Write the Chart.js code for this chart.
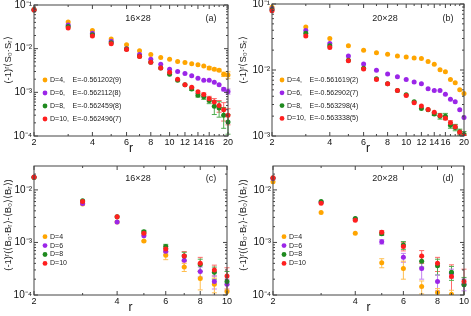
<!DOCTYPE html>
<html>
<head>
<meta charset="utf-8">
<script src="https://cdn.jsdelivr.net/npm/chart.js@4"></script>
<style>
  html, body { margin: 0; padding: 0; background: #fff; }
  #wrap { position: relative; width: 471px; height: 316px; }
  #wrap canvas { position: absolute; left: 0; top: 0; }
</style>
</head>
<body>
<div id="wrap">
  <canvas id="pa" width="471" height="316"></canvas>
  <canvas id="pb" width="471" height="316"></canvas>
  <canvas id="pc" width="471" height="316"></canvas>
  <canvas id="pd" width="471" height="316"></canvas>
</div>
<script>
// distances
const rLong = [2, 3, 4, 5, 6, 7, 8, 9, 10, 11, 12, 13, 14, 15, 16, 17, 18, 19, 20];
const rShort = [2, 3, 4, 5, 6, 7, 8, 9, 10];
const xTicksLong = [2, 4, 6, 8, 10, 12, 14, 16, 20];
const xTicksShort = [2, 4, 6, 8, 10];

const labelsD = ["D=4", "D=6", "D=8", "D=10"];
const energies16 = ["E=-0.561202(9)", "E=-0.562112(8)", "E=-0.562459(8)", "E=-0.562496(7)"];
const energies20 = ["E=-0.561619(2)", "E=-0.562902(7)", "E=-0.563298(4)", "E=-0.563338(5)"];

// (a) spin correlation, 16x28
const aD4 = [0.080, 0.041, 0.026, 0.0166, 0.0123, 0.0090, 0.0074, 0.0063, 0.0057, 0.0051, 0.0048, 0.0045, 0.0043, 0.0040, 0.0036, 0.0034, 0.0032, 0.0026, 0.0025];
const aD6 = [0.078, 0.035, 0.0224, 0.0147, 0.0100, 0.0074, 0.0057, 0.0044, 0.0034, 0.0030, 0.0027, 0.0024, 0.0021, 0.0019, 0.0019, 0.0017, 0.0015, 0.00118, 0.00105];
const aD8 = [0.077, 0.032, 0.0208, 0.0137, 0.0098, 0.0067, 0.0049, 0.0036, 0.0026, 0.0019, 0.0015, 0.00120, 0.00086, 0.00079, 0.00065, 0.00048, 0.00044, 0.00030, 0.00021];
const aD10 = [0.077, 0.0297, 0.0195, 0.0130, 0.0096, 0.0066, 0.0049, 0.0036, 0.0029, 0.0020, 0.0015, 0.0013, 0.00103, 0.00089, 0.00071, 0.00060, 0.00050, 0.00040, 0.00030];
const aD4err = [0, 0, 0, 0, 0, 0, 0, 0, 0, 0, 0, 0, 0, 0, 0.0003, 0.0002, 0.0002, 0.0003, 0.00045];
const aD6err = [0, 0, 0, 0, 0, 0, 0, 0, 0, 0, 0, 0, 0, 0, 0, 0, 0, 0.0001, 0.00014];
const aD8err = [0, 0, 0, 0, 0, 0, 0, 0, 0, 0, 0, 0.0001, 0.00008, 0.0001, 0.0001, 0.00017, 0.00017, 0.00015, 0.0001];
const aD10err = [0, 0, 0, 0, 0, 0, 0, 0, 0, 0, 0, 0, 0, 0.00008, 0.0001, 0.00012, 0.00015, 0.00018, 0.00012];

// (b) spin correlation, 20x28
const bD4 = [0.089, 0.045, 0.030, 0.0234, 0.020, 0.0183, 0.0173, 0.0163, 0.0158, 0.0152, 0.0150, 0.0134, 0.0122, 0.0101, 0.0094, 0.0072, 0.0064, 0.0050, 0.0044];
const bD6 = [0.085, 0.0395, 0.0253, 0.0163, 0.0123, 0.0099, 0.0087, 0.0079, 0.0072, 0.0066, 0.0062, 0.0052, 0.0049, 0.0049, 0.0043, 0.0036, 0.0033, 0.0025, 0.0019];
const bD8 = [0.082, 0.036, 0.0233, 0.0140, 0.0106, 0.0074, 0.0062, 0.0049, 0.0042, 0.0033, 0.0026, 0.0025, 0.00215, 0.0020, 0.0020, 0.00146, 0.00135, 0.00115, 0.00105];
const bD10 = [0.079, 0.0327, 0.022, 0.0138, 0.0104, 0.0072, 0.0062, 0.0049, 0.0041, 0.0032, 0.00285, 0.00253, 0.0023, 0.00204, 0.00186, 0.00159, 0.00138, 0.00114, 0.0010];
const bD4err = [0, 0, 0, 0, 0, 0, 0, 0, 0, 0, 0, 0, 0, 0, 0, 0, 0, 0, 0];
const bD6err = [0, 0, 0, 0, 0, 0, 0, 0, 0, 0, 0, 0, 0, 0, 0, 0, 0, 0, 0];
const bD8err = [0, 0, 0, 0, 0, 0, 0, 0, 0, 0, 0, 0, 0.0001, 0.0002, 0.0002, 0.00015, 0.00015, 0.00012, 0.00012];
const bD10err = [0, 0, 0, 0, 0, 0, 0, 0, 0, 0, 0, 0, 0, 0, 0.0001, 0.00012, 0.0001, 0.0001, 0.0001];

// (c) dimer correlation, 16x28
const cD4 = [0.0172, 0.0054, 0.00245, 0.00106, 0.00057, 0.00034, 0.000205, 0.00016, 0.000116];
const cD6 = [0.0175, 0.0055, 0.00246, 0.00134, 0.00068, 0.00046, 0.00028, 0.00018, 0.00016];
const cD8 = [0.0175, 0.0062, 0.0031, 0.0016, 0.00084, 0.00055, 0.00038, 0.00027, 0.00018];
const cD10 = [0.0176, 0.0060, 0.0031, 0.00149, 0.00075, 0.00055, 0.0004, 0.0003, 0.00023];
const cD4err = [0, 0, 0, 0.00003, 0.0001, 0.00006, 0.00008, 0.00005, 0.00004];
const cD6err = [0, 0, 0, 0, 0.00008, 0.00012, 0.00006, 0.00005, 0.00004];
const cD8err = [0, 0, 0, 0.0001, 0.00008, 0.0001, 0.0001, 0.00007, 0.0001];
const cD10err = [0, 0, 0, 0.0001, 0.0001, 0.00012, 0.00012, 0.00007, 0.0001];

// (d) dimer correlation, 20x28
const dD4 = [0.0143, 0.0037, 0.00149, 0.00041, 0.00032, 0.000145, 0.000112, 0.000103, null];
const dD6 = [0.0165, 0.0058, 0.0028, 0.00103, 0.00052, 0.00032, 0.00018, 0.00026, 0.00016];
const dD8 = [0.0168, 0.0060, 0.00285, 0.00147, 0.00089, 0.00044, 0.00036, 0.00027, 0.000156];
const dD10 = [0.017, 0.0056, 0.00265, 0.00156, 0.00084, 0.00055, 0.0004, 0.000225, 0.00018];
const dD4err = [0, 0, 0, 0.00008, 0.00012, 0.00004, 0.00002, 0.00002, 0];
const dD6err = [0, 0, 0, 0.0001, 0.0001, 0.00012, 0.00006, 0.00005, 0.00004];
const dD8err = [0, 0, 0, 0.0001, 0.00015, 0.0001, 0.00012, 0.00008, 0.00006];
const dD10err = [0, 0, 0, 0.00012, 0.00015, 0.00015, 0.00012, 0.00015, 0.00013];

const colors = ["#ffa500", "#9b26e8", "#1f8a1f", "#ff1f1f"];
const errColors = ["#ffbf50", "#c37ff0", "#4fae4f", "#ff6a6a"];
const FONT = "'Liberation Sans', Arial, sans-serif";

function sup(n) {
  const m = { "-": "\u207B", "0": "\u2070", "1": "\u00B9", "2": "\u00B2", "3": "\u00B3", "4": "\u2074",
    "5": "\u2075", "6": "\u2076", "7": "\u2077", "8": "\u2078", "9": "\u2079" };
  return String(n).split("").map((c) => m[c]).join("");
}

// error bars, drawn under the points
const errorBars = {
  id: "errorBars",
  beforeDatasetsDraw(chart) {
    const ctx = chart.ctx;
    const xs = chart.scales.x, ys = chart.scales.y, a = chart.chartArea;
    ctx.save();
    ctx.beginPath();
    ctx.rect(a.left - 6, a.top, a.right - a.left + 12, a.bottom - a.top);
    ctx.clip();
    ctx.lineWidth = 1;
    chart.data.datasets.slice().reverse().forEach((ds) => {
      ctx.strokeStyle = ds.errColor;
      ds.data.forEach((p, j) => {
        const e = ds.err[j];
        if (p.y == null || !e) return;
        const x = xs.getPixelForValue(p.x);
        const y1 = ys.getPixelForValue(p.y + e);
        const y2 = ys.getPixelForValue(Math.max(p.y - e, 1e-6));
        ctx.beginPath();
        ctx.moveTo(x, y1); ctx.lineTo(x, y2);
        ctx.moveTo(x - 2.5, y1); ctx.lineTo(x + 2.5, y1);
        ctx.moveTo(x - 2.5, y2); ctx.lineTo(x + 2.5, y2);
        ctx.stroke();
      });
    });
    ctx.restore();
  },
};

// box with inward ticks on all sides
const frame = {
  id: "frame",
  afterDraw(chart, args, o) {
    const ctx = chart.ctx;
    const xs = chart.scales.x, ys = chart.scales.y, a = chart.chartArea;
    ctx.save();
    ctx.strokeStyle = "#444";
    ctx.lineWidth = 1;
    ctx.strokeRect(a.left, a.top, a.right - a.left, a.bottom - a.top);
    ctx.beginPath();
    o.xMinor.forEach((v) => {
      const x = xs.getPixelForValue(v);
      const len = o.xMajor.includes(v) ? 4 : 2;
      ctx.moveTo(x, a.bottom); ctx.lineTo(x, a.bottom - len);
      ctx.moveTo(x, a.top); ctx.lineTo(x, a.top + len);
    });
    const lo = Math.floor(Math.log10(ys.min)), hi = Math.ceil(Math.log10(ys.max));
    for (let e = lo; e <= hi; e++) {
      for (let k = 1; k <= 9; k++) {
        const v = k * Math.pow(10, e);
        if (v < ys.min * 0.999 || v > ys.max * 1.001) continue;
        const y = ys.getPixelForValue(v);
        const len = k === 1 ? 4 : 2;
        ctx.moveTo(a.left, y); ctx.lineTo(a.left + len, y);
        ctx.moveTo(a.right, y); ctx.lineTo(a.right - len, y);
      }
    }
    ctx.stroke();
    ctx.restore();
  },
};

// panel label, size, legend and y title
const notes = {
  id: "notes",
  afterDraw(chart, args, o) {
    const ctx = chart.ctx;
    ctx.save();
    ctx.fillStyle = "#222";
    ctx.textBaseline = "middle";
    ctx.textAlign = "center";
    ctx.font = "9px " + FONT;
    ctx.fillText(o.size, o.sizeX, o.headY);
    ctx.fillText(o.letter, o.letterX, o.headY);
    ctx.textAlign = "left";
    ctx.font = "7px " + FONT;
    labelsD.forEach((lab, i) => {
      const y = o.legY + i * o.legStep;
      ctx.fillStyle = colors[i];
      ctx.beginPath();
      ctx.arc(o.legX, y, 2.4, 0, Math.PI * 2);
      ctx.fill();
      ctx.fillStyle = "#222";
      ctx.fillText(o.energies ? lab + "," : lab, o.legX + 5, y);
      if (o.energies) ctx.fillText(o.energies[i], o.legX + 27.5, y);
    });
    ctx.translate(o.titleX, o.titleY);
    ctx.rotate(-Math.PI / 2);
    ctx.textAlign = "center";
    ctx.font = "9.5px " + FONT;
    ctx.fillText(o.yTitle, 0, 0);
    ctx.restore();
  },
};

function makePanel(id, p) {
  const datasets = p.values.map((vals, i) => ({
    label: labelsD[i],
    data: p.r.map((r, j) => ({ x: r, y: vals[j] })),
    err: p.errs[i],
    errColor: errColors[i],
    backgroundColor: colors[i],
    borderWidth: 0,
    pointRadius: 2.5,
    pointHoverRadius: 2.5,
    order: 4 - i,
    clip: { left: 6, right: 6, top: 0, bottom: 0 },
  }));
  const yw = 32;
  new Chart(document.getElementById(id), {
    type: "scatter",
    data: { datasets },
    options: {
      responsive: false,
      animation: false,
      devicePixelRatio: 1,
      layout: {
        padding: { left: p.box[0] - yw, top: p.box[1], right: 471 - p.box[2], bottom: 316 - p.box[3] - p.xh },
      },
      scales: {
        x: {
          type: "logarithmic",
          min: p.r[0],
          max: p.r[p.r.length - 1],
          grid: { display: false, drawTicks: false },
          border: { display: false },
          afterBuildTicks: (s) => { s.ticks = p.xTicks.map((v) => ({ value: v })); },
          afterFit: (s) => { s.height = p.xh; s.paddingLeft = 0; s.paddingRight = 0; },
          ticks: {
            autoSkip: false, maxRotation: 0, padding: 1, color: "#111",
            font: { family: FONT, size: 9 },
            callback: (v) => String(v),
          },
          title: { display: true, text: "r", color: "#111", padding: 0, font: { family: FONT, size: 12 } },
        },
        y: {
          type: "logarithmic",
          min: p.yMin,
          max: p.yMax,
          grid: { display: false, drawTicks: false },
          border: { display: false },
          afterBuildTicks: (s) => { s.ticks = p.yTicks.map((v) => ({ value: v })); },
          afterFit: (s) => { s.width = yw; s.paddingTop = 0; s.paddingBottom = 0; },
          ticks: {
            padding: 2, color: "#111",
            font: { family: FONT, size: 10 },
            callback: (v) => "10" + sup(Math.round(Math.log10(v))),
          },
        },
      },
      plugins: {
        legend: { display: false },
        tooltip: { enabled: false },
        frame: { xMajor: p.xTicks, xMinor: p.r },
        notes: p.notes,
      },
    },
    plugins: [errorBars, frame, notes],
  });
}

const yTitleS = "(-1)\u02B3\u27E8S\u2080\u00B7S\u1D63\u27E9";
const yTitleB = "(-1)\u02B3(\u27E8B\u2080\u00B7B\u1D63\u27E9-\u27E8B\u2080\u27E9\u27E8B\u1D63\u27E9)";

makePanel("pa", {
  box: [34, 5, 228, 136], xh: 20, r: rLong, xTicks: xTicksLong,
  yMin: 1e-4, yMax: 1e-1, yTicks: [1e-4, 1e-3, 1e-2, 1e-1],
  values: [aD4, aD6, aD8, aD10], errs: [aD4err, aD6err, aD8err, aD10err],
  notes: { size: "16\u00D728", sizeX: 138, letter: "(a)", letterX: 211, headY: 19,
    legX: 45, legY: 80, legStep: 13, energies: energies16, yTitle: yTitleS, titleX: 8, titleY: 60 },
});
makePanel("pb", {
  box: [272, 4, 464, 136], xh: 20, r: rLong, xTicks: xTicksLong,
  yMin: 1e-3, yMax: 1e-1, yTicks: [1e-3, 1e-2, 1e-1],
  values: [bD4, bD6, bD8, bD10], errs: [bD4err, bD6err, bD8err, bD10err],
  notes: { size: "20\u00D728", sizeX: 385, letter: "(b)", letterX: 448, headY: 19,
    legX: 282, legY: 80, legStep: 12.8, energies: energies20, yTitle: yTitleS, titleX: 243, titleY: 60 },
});
makePanel("pc", {
  box: [34, 166, 227, 295], xh: 20, r: rShort, xTicks: xTicksShort,
  yMin: 1e-4, yMax: 0.0285, yTicks: [1e-4, 1e-3, 1e-2],
  values: [cD4, cD6, cD8, cD10], errs: [cD4err, cD6err, cD8err, cD10err],
  notes: { size: "16\u00D728", sizeX: 138, letter: "(c)", letterX: 211, headY: 179,
    legX: 45, legY: 236.7, legStep: 8.9, energies: null, yTitle: yTitleB, titleX: 8, titleY: 225 },
});
makePanel("pd", {
  box: [273, 166, 464, 295], xh: 20, r: rShort, xTicks: xTicksShort,
  yMin: 1e-4, yMax: 0.0285, yTicks: [1e-4, 1e-3, 1e-2],
  values: [dD4, dD6, dD8, dD10], errs: [dD4err, dD6err, dD8err, dD10err],
  notes: { size: "20\u00D728", sizeX: 385, letter: "(d)", letterX: 448, headY: 179,
    legX: 284, legY: 236.7, legStep: 8.9, energies: null, yTitle: yTitleB, titleX: 243, titleY: 225 },
});
</script>
</body>
</html>
